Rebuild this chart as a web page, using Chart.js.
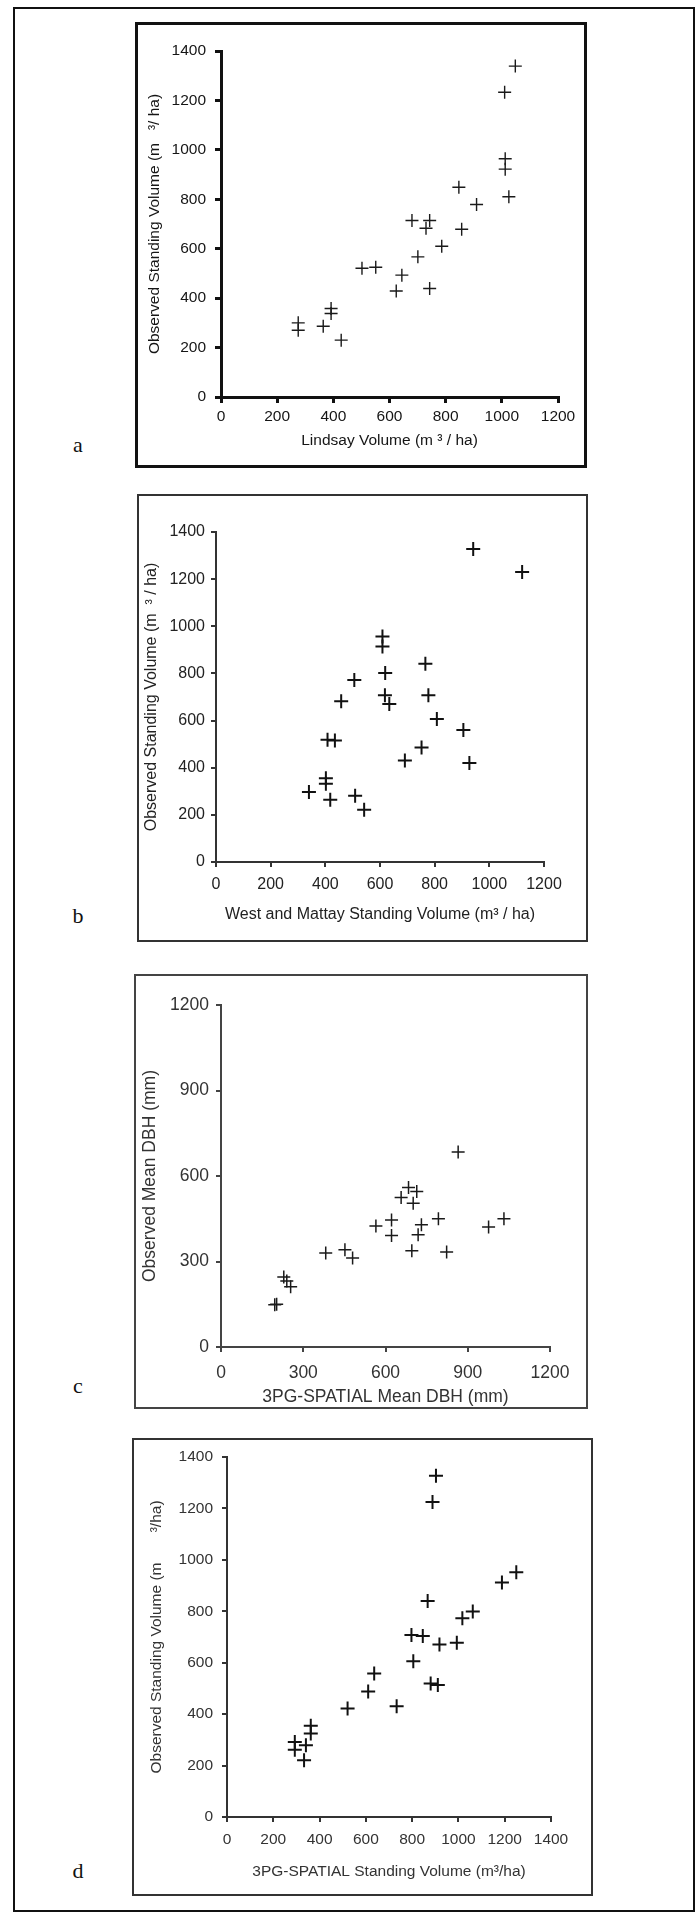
<!DOCTYPE html>
<html>
<head>
<meta charset="utf-8">
<script src="https://cdn.jsdelivr.net/npm/chart.js@4/dist/chart.umd.min.js"></script>
<style>
  html, body { margin: 0; padding: 0; background: #fff; }
  body { width: 700px; height: 1917px; position: relative; overflow: hidden; }
  .outer { position: absolute; left: 13px; top: 7px; width: 682px; height: 1905px; border: 2px solid #111; box-sizing: border-box; }
  .box { position: absolute; box-sizing: border-box; background: #fff; }
  .box canvas { position: absolute; left: 0; top: 0; }
  .lbl { position: absolute; font-family: "Liberation Serif", "DejaVu Serif", serif; font-size: 22px; color: #111; line-height: 1; transform: translate(-50%, -50%); }
</style>
</head>
<body>
<div class="outer"></div>
<div class="lbl" style="left:78px; top:445px;">a</div>
<div class="lbl" style="left:78px; top:916px;">b</div>
<div class="lbl" style="left:78px; top:1386px;">c</div>
<div class="lbl" style="left:78px; top:1871px;">d</div>

<script>
// ---- Data ----
// Panel a: Lindsay volume vs observed standing volume
const aLindsay   = [1048,1010,1012,1012,1025,847,910,857,680,743,730,786,701,644,624,743,502,551,392,392,364,275,275,428];
const aObserved  = [1339,1233,964,922,810,849,779,679,714,714,683,610,567,493,429,439,521,525,358,338,286,300,270,230];
// Panel b: West and Mattay standing volume vs observed
const bWestMattay = [941,1120,609,609,619,618,634,766,777,808,905,927,752,691,506,458,408,435,402,402,340,418,509,542];
const bObserved   = [1328,1230,957,914,802,707,670,841,707,607,560,420,486,431,772,682,519,515,355,332,297,264,281,222];
// Panel c: 3PG-SPATIAL mean DBH vs observed mean DBH
const c3pgDBH      = [865,684,714,657,701,622,622,565,731,719,793,696,823,976,1032,382,452,480,229,240,254,196,203];
const cObservedDBH = [684,560,546,525,504,446,391,425,429,394,450,338,333,421,450,330,341,312,246,232,211,148,150];
// Panel d: 3PG-SPATIAL standing volume vs observed
const d3pgVolume = [903,888,1250,1188,867,1062,1017,797,846,918,993,805,880,911,636,610,733,521,362,362,293,293,341,333];
const dObserved  = [1327,1225,952,912,840,799,773,708,704,671,678,606,519,513,558,488,431,422,355,325,292,262,279,221];

// Tick settings
const aXTicks = { max: 1200, step: 200 }, aYTicks = { max: 1400, step: 200 };
const bXTicks = { max: 1200, step: 200 }, bYTicks = { max: 1400, step: 200 };
const cXTicks = { max: 1200, step: 300 }, cYTicks = { max: 1200, step: 300 };
const dXTicks = { max: 1400, step: 200 }, dYTicks = { max: 1400, step: 200 };

// Axis titles
const aXTitle = 'Lindsay Volume (m \u00B3 / ha)';
const aYTitle = 'Observed Standing Volume (m   \u00B3/ ha)';
const bXTitle = 'West and Mattay Standing Volume (m\u00B3 / ha)';
const bYTitle = 'Observed Standing Volume (m  \u00B3 / ha)';
const cXTitle = '3PG-SPATIAL Mean DBH (mm)';
const cYTitle = 'Observed Mean DBH (mm)';
const dXTitle = '3PG-SPATIAL Standing Volume (m\u00B3/ha)';
const dYTitle = 'Observed Standing Volume (m       \u00B3/ha)';

function pts(xs, ys) { return xs.map((x, i) => ({ x: x, y: ys[i] })); }
const plain = (v) => String(v);

function makePanel(cfg) {
  const box = document.createElement('div');
  box.className = 'box';
  box.style.left = cfg.left + 'px';
  box.style.top = cfg.top + 'px';
  box.style.width = cfg.w + 'px';
  box.style.height = cfg.h + 'px';
  box.style.border = cfg.boxBorder;
  document.body.appendChild(box);
  const cv = document.createElement('canvas');
  cv.width = cfg.w; cv.height = cfg.h;
  cv.style.width = cfg.w + 'px'; cv.style.height = cfg.h + 'px';
  cv.style.left = (-parseFloat(getComputedStyle(box).borderLeftWidth)) + 'px';
  cv.style.top = (-parseFloat(getComputedStyle(box).borderTopWidth)) + 'px';
  box.appendChild(cv);

  const A = cfg.area; // chart area relative to canvas
  const tickFont = { family: 'Liberation Sans, Arial, sans-serif', size: cfg.fontSize };
  const titleFont = { family: 'Liberation Sans, Arial, sans-serif', size: cfg.fontSize };

  new Chart(cv.getContext('2d'), {
    type: 'scatter',
    data: {
      datasets: [{
        data: pts(cfg.xs, cfg.ys),
        pointStyle: 'cross',
        pointRadius: cfg.pointRadius,
        pointHoverRadius: cfg.pointRadius,
        borderColor: cfg.pointColor,
        backgroundColor: cfg.pointColor,
        borderWidth: cfg.pointWidth,
        showLine: false
      }]
    },
    options: {
      responsive: false,
      animation: false,
      devicePixelRatio: 1,
      events: [],
      layout: { padding: { left: 0, top: A.t, right: cfg.w - A.r, bottom: 0 } },
      plugins: { legend: { display: false }, tooltip: { enabled: false }, title: { display: false } },
      scales: {
        x: {
          type: 'linear', position: 'bottom',
          min: 0, max: cfg.xTicks.max,
          afterFit: (s) => { s.height = cfg.h - A.b; },
          ticks: { stepSize: cfg.xTicks.step, callback: plain, color: cfg.textColor, font: tickFont, padding: cfg.xTickPad, maxRotation: 0, autoSkip: false },
          grid: { display: true, drawOnChartArea: false, drawTicks: true, tickLength: cfg.tickLen, color: cfg.lineColor, lineWidth: cfg.tickWidth },
          border: { display: true, color: cfg.lineColor, width: cfg.axisWidth },
          title: { display: true, text: cfg.xTitle, color: cfg.textColor, font: titleFont, padding: { top: 0, bottom: cfg.xTitlePad } }
        },
        y: {
          type: 'linear', position: 'left',
          min: 0, max: cfg.yTicks.max,
          afterFit: (s) => { s.width = A.l; },
          ticks: { stepSize: cfg.yTicks.step, callback: plain, color: cfg.textColor, font: tickFont, padding: cfg.yTickPad, autoSkip: false },
          grid: { display: true, drawOnChartArea: false, drawTicks: true, tickLength: cfg.tickLen, color: cfg.lineColor, lineWidth: cfg.tickWidth },
          border: { display: true, color: cfg.lineColor, width: cfg.axisWidth },
          title: { display: true, text: cfg.yTitle, color: cfg.textColor, font: titleFont, padding: { top: cfg.yTitlePad, bottom: 0 } }
        }
      }
    }
  });
}

makePanel({
  left: 135, top: 22, w: 452, h: 446, boxBorder: '3px solid #111',
  area: { l: 86, t: 29, r: 423, b: 375 },
  xs: aLindsay, ys: aObserved, xTicks: aXTicks, yTicks: aYTicks,
  xTitle: aXTitle, yTitle: aYTitle,
  fontSize: 15.5, textColor: '#151515', lineColor: '#111', axisWidth: 3, tickWidth: 3, tickLen: 6,
  xTickPad: 4.7, yTickPad: 9, xTitlePad: 17.7, yTitlePad: 10.7,
  pointRadius: 6.5, pointWidth: 1.4, pointColor: '#1a1a1a'
});

makePanel({
  left: 137, top: 494, w: 451, h: 448, boxBorder: '2px solid #333',
  area: { l: 79, t: 38, r: 407, b: 368 },
  xs: bWestMattay, ys: bObserved, xTicks: bXTicks, yTicks: bYTicks,
  xTitle: bXTitle, yTitle: bYTitle,
  fontSize: 16, textColor: '#222', lineColor: '#333', axisWidth: 2, tickWidth: 2, tickLen: 5,
  xTickPad: 8.4, yTickPad: 6, xTitlePad: 17.4, yTitlePad: 5.4,
  pointRadius: 7, pointWidth: 2, pointColor: '#111'
});

makePanel({
  left: 134, top: 974, w: 454, h: 435, boxBorder: '2px solid #444',
  area: { l: 87, t: 31, r: 416, b: 373 },
  xs: c3pgDBH, ys: cObservedDBH, xTicks: cXTicks, yTicks: cYTicks,
  xTitle: cXTitle, yTitle: cYTitle,
  fontSize: 17.5, textColor: '#333', lineColor: '#444', axisWidth: 2, tickWidth: 2, tickLen: 5,
  xTickPad: 10.5, yTickPad: 7, xTitlePad: 1.5, yTitlePad: 5.5,
  pointRadius: 6.5, pointWidth: 1.5, pointColor: '#1a1a1a'
});

makePanel({
  left: 132, top: 1438, w: 461, h: 458, boxBorder: '2px solid #333',
  area: { l: 95, t: 19, r: 419, b: 379 },
  xs: d3pgVolume, ys: dObserved, xTicks: dXTicks, yTicks: dYTicks,
  xTitle: dXTitle, yTitle: dYTitle,
  fontSize: 15.5, textColor: '#333', lineColor: '#333', axisWidth: 2, tickWidth: 2, tickLen: 5,
  xTickPad: 8.7, yTickPad: 9, xTitlePad: 14.7, yTitlePad: 15.7,
  pointRadius: 7, pointWidth: 2, pointColor: '#111'
});
</script>
</body>
</html>
